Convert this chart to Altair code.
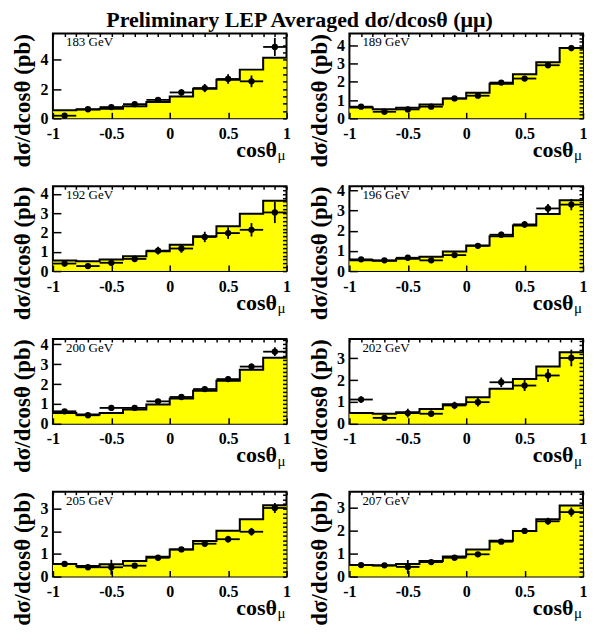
import altair as alt
import pandas as pd

SERIF = "Liberation Serif"

energies = ["183 GeV", "189 GeV", "192 GeV", "196 GeV",
            "200 GeV", "202 GeV", "205 GeV", "207 GeV"]
bin_edges = [-1.0, -0.8, -0.6, -0.4, -0.2, 0.0, 0.2, 0.4, 0.6, 0.8, 1.0]
bin_centers = [-0.9, -0.7, -0.5, -0.3, -0.1, 0.1, 0.3, 0.5, 0.7, 0.9]
half_width = 0.1

theory = [
    [0.55, 0.60, 0.66, 0.82, 1.12, 1.50, 2.02, 2.64, 3.33, 4.14],
    [0.60, 0.50, 0.58, 0.76, 1.09, 1.40, 1.90, 2.42, 3.07, 3.85],
    [0.55, 0.51, 0.60, 0.77, 1.03, 1.37, 1.80, 2.32, 2.97, 3.65],
    [0.54, 0.51, 0.61, 0.71, 0.97, 1.27, 1.73, 2.26, 2.83, 3.50],
    [0.55, 0.47, 0.55, 0.72, 0.97, 1.27, 1.67, 2.17, 2.72, 3.33],
    [0.50, 0.46, 0.53, 0.68, 0.90, 1.22, 1.60, 2.05, 2.62, 3.27],
    [0.56, 0.47, 0.54, 0.69, 0.88, 1.20, 1.57, 2.02, 2.53, 3.15],
    [0.50, 0.48, 0.55, 0.68, 0.87, 1.18, 1.56, 1.99, 2.50, 3.10],
]
measured = [
    [0.18, 0.62, 0.77, 0.97, 1.26, 1.77, 2.07, 2.69, 2.53, 4.88],
    [0.64, 0.36, 0.49, 0.64, 1.09, 1.24, 1.96, 2.18, 2.91, 3.85],
    [0.39, 0.26, 0.43, 0.63, 1.06, 1.17, 1.77, 1.97, 2.14, 3.04],
    [0.58, 0.53, 0.66, 0.53, 0.79, 1.25, 1.80, 2.31, 3.10, 3.29],
    [0.63, 0.43, 0.80, 0.80, 1.13, 1.35, 1.75, 2.25, 2.88, 3.63],
    [1.11, 0.27, 0.49, 0.46, 0.84, 0.99, 1.90, 1.75, 2.21, 3.01],
    [0.56, 0.41, 0.41, 0.48, 0.83, 1.20, 1.45, 1.65, 1.98, 3.03],
    [0.50, 0.49, 0.42, 0.63, 0.82, 0.97, 1.52, 1.99, 2.41, 2.81],
]
errors = [
    [0.12, 0.12, 0.12, 0.15, 0.17, 0.22, 0.28, 0.33, 0.40, 0.62],
    [0.08, 0.07, 0.15, 0.09, 0.10, 0.10, 0.12, 0.12, 0.14, 0.17],
    [0.15, 0.12, 0.15, 0.17, 0.20, 0.22, 0.27, 0.30, 0.35, 0.55],
    [0.08, 0.08, 0.09, 0.10, 0.11, 0.12, 0.15, 0.17, 0.22, 0.28],
    [0.07, 0.07, 0.08, 0.08, 0.09, 0.10, 0.12, 0.14, 0.16, 0.22],
    [0.15, 0.12, 0.20, 0.15, 0.17, 0.20, 0.22, 0.25, 0.30, 0.38],
    [0.08, 0.07, 0.33, 0.08, 0.09, 0.10, 0.12, 0.15, 0.17, 0.22],
    [0.06, 0.06, 0.30, 0.07, 0.08, 0.09, 0.10, 0.12, 0.15, 0.20],
]
y_max = [5.8, 4.65, 4.4, 4.2, 4.27, 3.88, 3.75, 3.7]
y_major = [[0, 2, 4], [0, 1, 2, 3, 4], [0, 1, 2, 3, 4], [0, 1, 2, 3, 4],
           [0, 1, 2, 3, 4], [0, 1, 2, 3], [0, 1, 2, 3], [0, 1, 2, 3]]
y_minor_step = [0.5, 0.2, 0.2, 0.2, 0.2, 0.2, 0.2, 0.2]
x_major = [-1, -0.5, 0, 0.5, 1]
x_minor = [-1.0, -0.9, -0.8, -0.7, -0.6, -0.5, -0.4, -0.3, -0.2, -0.1, 0.0,
           0.1, 0.2, 0.3, 0.4, 0.5, 0.6, 0.7, 0.8, 0.9, 1.0]

W, H = 234, 85


def panel(i):
    hist_df = pd.DataFrame({"x": bin_edges, "y": theory[i] + [theory[i][-1]]})
    pts_df = pd.DataFrame({
        "x": bin_centers,
        "y": measured[i],
        "lo": [v - e for v, e in zip(measured[i], errors[i])],
        "hi": [v + e for v, e in zip(measured[i], errors[i])],
        "xl": [c - half_width for c in bin_centers],
        "xr": [c + half_width for c in bin_centers],
    })
    n_minor = int(round(y_max[i] / y_minor_step[i]))
    y_minor = [round(k * y_minor_step[i], 3) for k in range(n_minor + 1)]

    xs = alt.Scale(domain=[-1, 1], nice=False, zero=False)
    ys = alt.Scale(domain=[0, y_max[i]], nice=False)

    x_axis_major = alt.Axis(
        values=x_major, labelExpr="datum.value + ''", tickSize=6, offset=-6,
        domain=False, grid=False, tickColor="black", tickWidth=1.5,
        labelFont=SERIF, labelFontSize=16, labelFontWeight="bold",
        labelColor="black", labelPadding=7, labelFlush=False, labelOverlap=False,
        zindex=1, title="cosθ", titleFont=SERIF, titleFontSize=22,
        titleFontWeight="bold", titleColor="black", titleX=W - 10, titleY=44,
        titleAlign="right", titleBaseline="alphabetic")
    x_axis_minor = alt.Axis(
        values=x_minor, tickSize=3, offset=-3, domain=False, grid=False,
        labels=False, tickColor="black", tickWidth=1.5, title=None, zindex=1)
    y_axis_major = alt.Axis(
        values=y_major[i], labelExpr="datum.value + ''", tickSize=8, offset=-8,
        domain=False, grid=False, tickColor="black", tickWidth=1.5,
        labelFont=SERIF, labelFontSize=16, labelFontWeight="bold",
        labelColor="black", labelPadding=5, labelFlush=False, labelOverlap=False,
        zindex=1, title="dσ/dcosθ (pb)", titleFont=SERIF, titleFontSize=23,
        titleFontWeight="bold", titleColor="black", titleAngle=270,
        titleX=-38, titleY=0, titleAlign="right", titleBaseline="middle")
    y_axis_minor = alt.Axis(
        values=y_minor, tickSize=4, offset=-4, domain=False, grid=False,
        labels=False, tickColor="black", tickWidth=1.5, title=None, zindex=1)

    area = alt.Chart(hist_df).mark_area(
        interpolate="step-after", color="#ffff00", opacity=1
    ).encode(
        x=alt.X("x:Q", scale=xs, axis=x_axis_major),
        y=alt.Y("y:Q", scale=ys, axis=y_axis_major),
    )
    outline = alt.Chart(hist_df).mark_line(
        interpolate="step-after", color="black", strokeWidth=2
    ).encode(
        x=alt.X("x:Q", scale=xs, axis=x_axis_minor),
        y=alt.Y("y:Q", scale=ys, axis=y_axis_minor),
    )
    vbar = alt.Chart(pts_df).mark_rule(color="black", strokeWidth=1.8).encode(
        x=alt.X("x:Q", scale=xs, axis=None),
        y=alt.Y("lo:Q", scale=ys, axis=None),
        y2="hi:Q",
    )
    hbar = alt.Chart(pts_df).mark_rule(color="black", strokeWidth=1.8).encode(
        x=alt.X("xl:Q", scale=xs, axis=None),
        x2="xr:Q",
        y=alt.Y("y:Q", scale=ys, axis=None),
    )
    dots = alt.Chart(pts_df).mark_circle(size=40, color="black", opacity=1).encode(
        x=alt.X("x:Q", scale=xs, axis=None),
        y=alt.Y("y:Q", scale=ys, axis=None),
    )
    label = alt.Chart(pd.DataFrame({"t": [energies[i]]})).mark_text(
        font=SERIF, fontSize=13, align="left", baseline="alphabetic", color="black"
    ).encode(text="t:N", x=alt.value(13), y=alt.value(13))
    mu = alt.Chart(pd.DataFrame({"t": ["μ"]})).mark_text(
        font=SERIF, fontSize=15, align="left", baseline="alphabetic", color="black"
    ).encode(text="t:N", x=alt.value(W - 9), y=alt.value(H + 42))

    return alt.layer(area, outline, vbar, hbar, dots, label, mu).resolve_axis(
        x="independent", y="independent"
    ).properties(width=W, height=H)


chart = alt.ConcatChart(
    concat=[panel(i) for i in range(8)],
    columns=2,
    spacing={"row": 68, "column": 63},
    bounds="flush",
).properties(
    title=alt.TitleParams(
        "Preliminary LEP Averaged dσ/dcosθ (μμ)", font=SERIF, fontSize=22,
        fontWeight="bold", color="black", anchor="middle", offset=0),
    padding={"left": 3, "top": 0, "right": 0, "bottom": 0},
).configure_view(stroke="black", strokeWidth=2)

chart.save("out.html", embed_options={"renderer": "svg", "actions": False})
